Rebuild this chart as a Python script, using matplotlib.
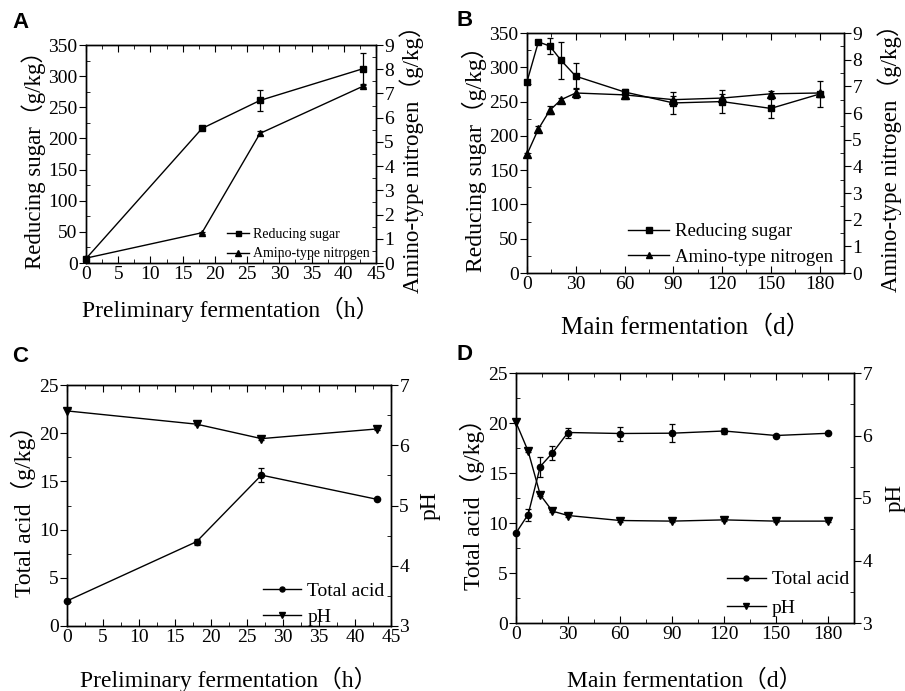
import matplotlib
matplotlib.use("Agg")
import matplotlib.pyplot as plt
import numpy as np
from matplotlib.ticker import MultipleLocator
from matplotlib.lines import Line2D

plt.rcParams['font.family'] = ['Liberation Serif', 'Noto Sans CJK SC']

# ---- Data ----
# Panel A: preliminary fermentation (h)
a_time = [0, 18, 27, 43]
a_sugar = [7, 216, 261, 312]
a_sugar_err = [0, 3, 17, 25]
a_nitrogen = [0.2, 1.25, 5.35, 7.3]
a_nitrogen_err = [0, 0.05, 0.08, 0.05]

# Panel B: main fermentation (d)
b_time = [0, 7, 14, 21, 30, 60, 90, 120, 150, 180]
b_sugar = [279, 337, 331, 310, 287, 264, 248, 250, 240, 261]
b_sugar_err = [3, 2, 11, 27, 19, 4, 16, 17, 14, 19]
b_nitrogen = [4.45, 5.4, 6.1, 6.5, 6.75, 6.68, 6.5, 6.56, 6.72, 6.75]
b_nitrogen_err = [0.05, 0.12, 0.15, 0.05, 0.2, 0.15, 0.15, 0.15, 0.12, 0.05]

# Panel C: preliminary fermentation (h)
c_time = [0, 18, 27, 43]
c_acid = [2.6, 8.75, 15.65, 13.15]
c_acid_err = [0, 0.3, 0.7, 0]
c_ph = [6.57, 6.35, 6.11, 6.27]
c_ph_err = [0, 0.02, 0.02, 0.02]

# Panel D: main fermentation (d)
d_time = [0, 7, 14, 21, 30, 60, 90, 120, 150, 180]
d_acid = [9.0, 10.85, 15.65, 17.0, 19.05, 18.95, 18.98, 19.2, 18.75, 18.97]
d_acid_err = [0, 0.6, 1.0, 0.7, 0.5, 0.7, 0.9, 0.3, 0, 0]
d_ph = [6.21, 5.75, 5.05, 4.79, 4.72, 4.64, 4.63, 4.65, 4.63, 4.63]
d_ph_err = [0, 0.02, 0.02, 0.02, 0.02, 0.02, 0.02, 0.02, 0.02, 0.02]

W, H = 905, 691
fig = plt.figure(figsize=(W / 100, H / 100), dpi=100)


def rect(l, r, t, b):
    return [l / W, 1 - b / H, (r - l) / W, (b - t) / H]


TICK_FS = 14
LAB_FS = 17


def style(ax, ax2, xmaj, xmin, ymaj, ymin, y2maj, y2min):
    for a in (ax, ax2):
        for s in a.spines.values():
            s.set_linewidth(1.0)
    ax.xaxis.set_major_locator(MultipleLocator(xmaj))
    ax.xaxis.set_minor_locator(MultipleLocator(xmin))
    ax.yaxis.set_major_locator(MultipleLocator(ymaj))
    ax.yaxis.set_minor_locator(MultipleLocator(ymin))
    ax2.yaxis.set_major_locator(MultipleLocator(y2maj))
    ax2.yaxis.set_minor_locator(MultipleLocator(y2min))
    ax.tick_params(axis='x', which='both', direction='in', top=True, bottom=True,
                   labelsize=TICK_FS, pad=2)
    ax.tick_params(axis='x', which='major', length=5)
    ax.tick_params(axis='x', which='minor', length=3)
    ax.tick_params(axis='y', which='major', direction='out', length=5, labelsize=TICK_FS, pad=1)
    ax.tick_params(axis='y', which='minor', direction='in', length=3)
    ax2.tick_params(axis='y', which='major', direction='out', length=5, labelsize=TICK_FS, pad=1)
    ax2.tick_params(axis='y', which='minor', direction='in', length=3)


def plot_series(ax, x, y, err, marker, ms):
    e = np.array(err, dtype=float)
    e[e == 0] = np.nan
    ax.errorbar(x, y, yerr=e, color='black', lw=1.0, marker=marker, ms=ms,
                capsize=2.5, elinewidth=0.9, capthick=0.9, clip_on=False)
    return Line2D([], [], color='black', lw=1.0, marker=marker, ms=ms * 0.8)


def add_legend(ax, handles, labels, anchor, fs, hl, ls):
    ax.legend(handles, labels, loc='lower right', bbox_to_anchor=anchor,
              frameon=False, fontsize=fs, handlelength=hl, handletextpad=0.3,
              labelspacing=ls, borderaxespad=0.0, borderpad=0.0)


# ---- Panel A ----
axA = fig.add_axes(rect(86, 376, 45, 263))
axA2 = axA.twinx()
h1 = plot_series(axA, a_time, a_sugar, a_sugar_err, 's', 4.5)
h2 = plot_series(axA2, a_time, a_nitrogen, a_nitrogen_err, '^', 5)
axA.set_xlim(0, 45)
axA.set_ylim(0, 350)
axA2.set_ylim(0, 9)
style(axA, axA2, 5, 2.5, 50, 25, 1, 0.5)
axA.set_xlabel('Preliminary fermentation（h）', fontsize=LAB_FS, labelpad=10)
axA.set_ylabel('Reducing sugar（g/kg）', fontsize=LAB_FS - 0.5, labelpad=2)
axA2.set_ylabel('Amino-type nitrogen（g/kg）', fontsize=LAB_FS - 0.5, labelpad=4)
add_legend(axA2, [h1, h2], ['Reducing sugar', 'Amino-type nitrogen'],
           (0.98, 0.012), 10, 1.6, 0.45)

# ---- Panel B ----
axB = fig.add_axes(rect(527, 844, 33, 273))
axB2 = axB.twinx()
h1 = plot_series(axB, b_time, b_sugar, b_sugar_err, 's', 5)
h2 = plot_series(axB2, b_time, b_nitrogen, b_nitrogen_err, '^', 5.5)
axB.set_xlim(0, 195)
axB.set_ylim(0, 350)
axB2.set_ylim(0, 9)
style(axB, axB2, 30, 15, 50, 25, 1, 0.5)
axB.set_xlabel('Main fermentation（d）', fontsize=LAB_FS + 1, labelpad=16)
axB.set_ylabel('Reducing sugar（g/kg）', fontsize=LAB_FS, labelpad=2)
axB2.set_ylabel('Amino-type nitrogen（g/kg）', fontsize=LAB_FS - 0.5, labelpad=11)
add_legend(axB2, [h1, h2], ['Reducing sugar', 'Amino-type nitrogen'],
           (0.965, 0.03), 13.5, 2.2, 0.45)

# ---- Panel C ----
axC = fig.add_axes(rect(67, 391, 385, 626))
axC2 = axC.twinx()
h1 = plot_series(axC, c_time, c_acid, c_acid_err, 'o', 4.5)
h2 = plot_series(axC2, c_time, c_ph, c_ph_err, 'v', 5.5)
axC.set_xlim(0, 45)
axC.set_ylim(0, 25)
axC2.set_ylim(3, 7)
style(axC, axC2, 5, 2.5, 5, 2.5, 1, 0.5)
axC.set_xlabel('Preliminary fermentation（h）', fontsize=LAB_FS, labelpad=15)
axC.set_ylabel('Total acid（g/kg）', fontsize=LAB_FS, labelpad=2)
axC2.set_ylabel('pH', fontsize=LAB_FS, labelpad=7.5)
add_legend(axC2, [h1, h2], ['Total acid', 'pH'], (0.98, 0.0), 14, 2.0, 0.45)

# ---- Panel D ----
axD = fig.add_axes(rect(516, 854, 373, 623))
axD2 = axD.twinx()
h1 = plot_series(axD, d_time, d_acid, d_acid_err, 'o', 4.5)
h2 = plot_series(axD2, d_time, d_ph, d_ph_err, 'v', 5.5)
axD.set_xlim(0, 195)
axD.set_ylim(0, 25)
axD2.set_ylim(3, 7)
style(axD, axD2, 30, 15, 5, 2.5, 1, 0.5)
axD.set_xlabel('Main fermentation（d）', fontsize=LAB_FS, labelpad=19)
axD.set_ylabel('Total acid（g/kg）', fontsize=LAB_FS, labelpad=2)
axD2.set_ylabel('pH', fontsize=LAB_FS - 0.5, labelpad=9)
add_legend(axD2, [h1, h2], ['Total acid', 'pH'], (0.985, 0.025), 14, 2.0, 0.55)

# ---- Panel letters ----
for lab, (px, py) in zip(['A', 'B', 'C', 'D'], [(12, 22), (456, 20), (12, 357), (456, 354)]):
    fig.text(px / W, 1 - py / H, lab, fontsize=16, fontweight='bold',
             family='Liberation Sans', va='center', ha='left')

fig.savefig('out.png', dpi=100)
